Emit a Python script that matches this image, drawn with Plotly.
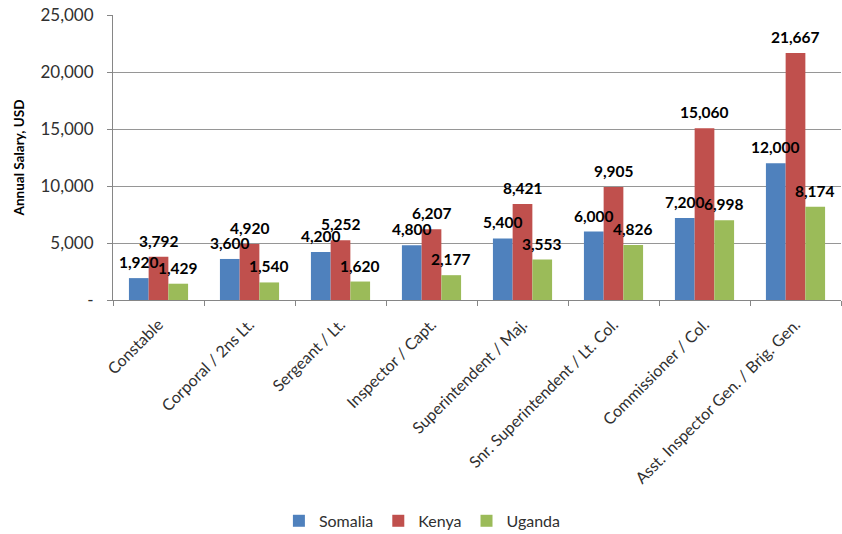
import plotly.graph_objects as go

categories = ["Constable", "Corporal / 2ns Lt.", "Sergeant / Lt.", "Inspector / Capt.",
              "Superintendent / Maj.", "Snr. Superintendent / Lt. Col.",
              "Commissioner / Col.", "Asst. Inspector Gen. / Brig. Gen."]
somalia = [1920, 3600, 4200, 4800, 5400, 6000, 7200, 12000]
kenya = [3792, 4920, 5252, 6207, 8421, 9905, 15060, 21667]
uganda = [1429, 1540, 1620, 2177, 3553, 4826, 6998, 8174]
y_ticks = [0, 5000, 10000, 15000, 20000, 25000]
y_tick_text = ["-", "5,000", "10,000", "15,000", "20,000", "25,000"]

series = [("Somalia", somalia, "#4F81BD"), ("Kenya", kenya, "#C0504D"), ("Uganda", uganda, "#9BBB59")]

W, H = 842, 534
L, R, T, B = 113, 1, 15, 234
BARGAP = 0.35
cat_px = (W - L - R) / len(categories)
bar_px = cat_px * (1 - BARGAP) / len(series)

fig = go.Figure()
for name, vals, col in series:
    fig.add_trace(go.Bar(
        x=categories, y=vals, name=name, marker=dict(color=col, line=dict(width=0)),
    ))

annotations = []
for i, (name, vals, col) in enumerate(series):
    shift = (i - 1) * bar_px
    for c, v in zip(categories, vals):
        annotations.append(dict(
            x=c, y=v, xref="x", yref="y", text=f"{v:,}", showarrow=False,
            xanchor="center", yanchor="bottom", xshift=shift, yshift=5,
            font=dict(family="Lato", size=15.5, color="black", weight="bold"),
        ))

fig.update_layout(
    width=W, height=H, barmode="group", bargap=BARGAP, bargroupgap=0,
    plot_bgcolor="white", paper_bgcolor="white",
    margin=dict(l=L, r=R, t=T, b=B, autoexpand=False),
    font=dict(family="Lato", size=16, color="#303030"),
    legend=dict(orientation="h", x=0.425, xanchor="center", y=-0.775, yanchor="middle",
                font=dict(size=16, color="#303030"), traceorder="normal",
                itemwidth=30, tracegroupgap=0),
    annotations=annotations,
    showlegend=True,
)
fig.update_xaxes(
    automargin=False,
    showline=True, linecolor="#868686", linewidth=1, ticks="outside", tickson="boundaries",
    ticklen=5, tickcolor="#868686", tickangle=-45, tickfont=dict(size=16, color="#303030"),
    ticklabelstandoff=8,
)
fig.update_yaxes(
    automargin=False,
    range=[0, 25000], tickvals=y_ticks, ticktext=y_tick_text, showgrid=True,
    gridcolor="#969696", gridwidth=1, showline=True, linecolor="#868686", linewidth=1,
    ticks="outside", ticklen=5, tickcolor="#868686", tickfont=dict(size=17, color="#303030"),
    ticklabelstandoff=10,
    title=dict(text="<b>Annual Salary, USD</b>", font=dict(size=13.5, color="black"), standoff=12),
    zeroline=False,
)
fig.write_html("out.html", config={"displayModeBar": False},
               post_script="document.body.style.margin='0';document.body.style.overflow='hidden';")
